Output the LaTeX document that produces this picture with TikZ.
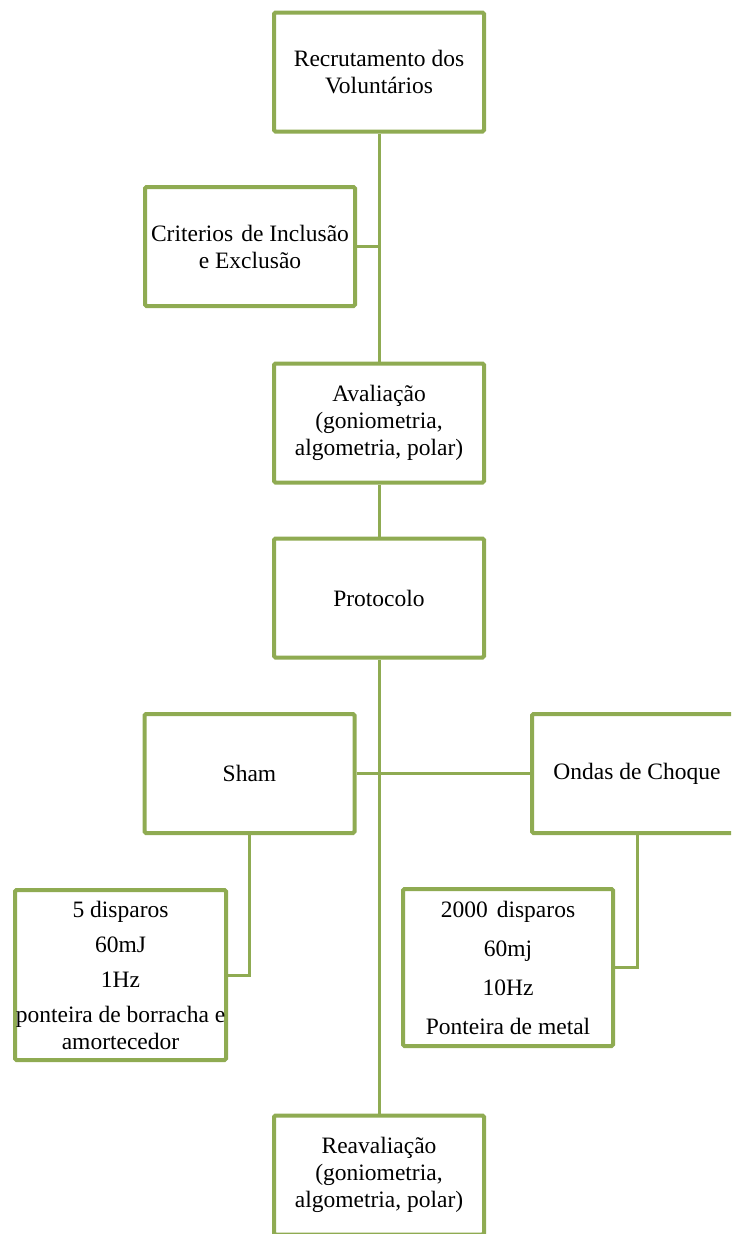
\documentclass[tikz,border=0pt]{standalone}
\usepackage{fontspec}
\setmainfont{Liberation Serif}
\definecolor{olv}{RGB}{143,171,82}
\begin{document}
\begin{tikzpicture}[x=1pt,y=-1pt,
  box/.style={draw=olv,line width=4pt,fill=white,rounded corners=1.5pt,
    minimum width=210pt,minimum height=119pt,align=center,inner sep=0pt,
    font=\fontsize{23.5}{27}\selectfont},
  conn/.style={draw=olv,line width=3pt}]
\useasboundingbox (0,0) rectangle (731,1234);
\clip (0,0) rectangle (731,1234);
\node[box] (rec) at (379,72) {Recrutamento dos\\Voluntários};
\node[box] (crit) at (250,246.5) {Criterios\hspace{8pt}de Inclusão\\e Exclusão};
\node[box] (av) at (379,423) {Avaliação\\(goniometria,\\algometria, polar)};
\node[box] (prot) at (379,598) {Protocolo};
\node[box] (sham) at (249.5,773.5) {Sham};
\node[box] (ondas) at (637,773.5) {Ondas de Choque};
\node[box,minimum width=211pt,minimum height=170pt] (d5) at (120.5,975) {5 disparos\\[8pt]60mJ\\[8pt]1Hz\\[8pt]ponteira de borracha e\\amortecedor};
\node[box,minimum width=210pt,minimum height=157pt] (d2000) at (508,967.5) {2000\hspace{9pt}disparos\\[12pt]60mj\\[12pt]10Hz\\[12pt]Ponteira de metal};
\node[box] (rea) at (379,1175) {Reavaliação\\(goniometria,\\algometria, polar)};
\path[conn] (rec.south) -- (av.north);
\path[conn] (av.south) -- (prot.north);
\path[conn] (prot.south) -- (rea.north);
\path[conn] (crit.east) -- (crit.east -| rec.south);
\path[conn] (sham.east) -- (ondas.west);
\path[conn] (sham.south) |- (d5.east);
\path[conn] (ondas.south) |- (d2000.east);
\end{tikzpicture}
\end{document}
